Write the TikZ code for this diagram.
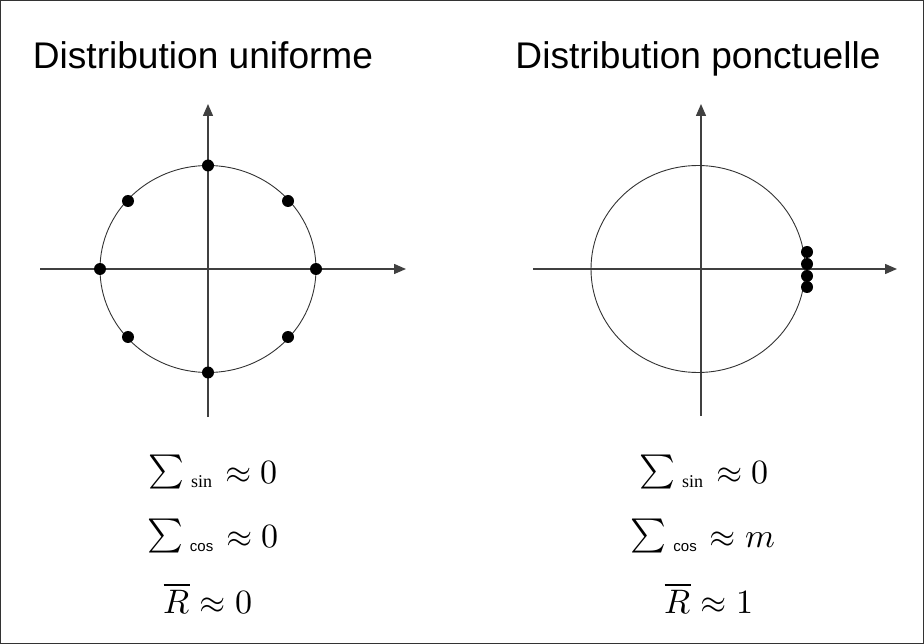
\documentclass[tikz,border=0pt]{standalone}
\usepackage{unicode-math}
\setmainfont{Liberation Sans}
\newfontfamily\subserif{Liberation Serif}
\usetikzlibrary{arrows.meta, positioning, calc}
\newcommand{\bigsum}{\raisebox{3pt}{$\sum$}}
\newcommand{\sumsin}{\bigsum\hspace{7pt}\raisebox{-4pt}{\subserif\fontsize{18}{20}\selectfont sin}\hspace{13pt}}
\newcommand{\sumcos}{\bigsum\hspace{7pt}\raisebox{-4pt}{\fontsize{15}{18}\selectfont cos}\hspace{13pt}}

\begin{document}
\begin{tikzpicture}[x=1pt, y=-1pt,
    ax/.style={-{Triangle[length=12pt,width=10pt]}, line width=1.4pt, black!75},
    c/.style={black!80, line width=0.9pt},
    d/.style={circle, fill=black, inner sep=0pt, minimum size=12pt},
    t/.style={font=\fontsize{37.1}{40}\selectfont, anchor=base},
    f/.style={font=\fontsize{34}{38}\selectfont, anchor=base},
]
\useasboundingbox (0,0) rectangle (924,644);
\draw[black!80, line width=0.9pt] (0.5,0.5) rectangle (923.5,643.5);

% left: uniform
\node[t] (tu) at (203,69) {Distribution uniforme};
\coordinate (uo) at (208,269);
\coordinate (ul) at (40,269);
\coordinate (ur) at (406,269);
\coordinate (ub) at (208,417);
\coordinate (ut) at (208,104);
\draw[ax] (ul) -- (ur);
\draw[ax] (ub) -- (ut);
\draw[c] (uo) ellipse [x radius=108, y radius=103.5];
\foreach \dx/\dy in {108/0, 80/68, 0/103.5, -80/68, -108/0, -80/-68, 0/-103.5, 80/-68}
  \node[d] at ($(uo)+(\dx,\dy)$) {};
\node[f] (us) at (213,483) {\sumsin$\approx 0$};
\node[f] (uc) at (213,547) {\sumcos$\approx 0$};
\node[f] (ur2) at (208,613) {$\overline{R}\approx 0$};

% right: ponctuelle
\node[t] (tp) at (698,69) {Distribution ponctuelle};
\coordinate (po) at (698,269);
\coordinate (pl) at (533,269);
\coordinate (pr) at (897,269);
\coordinate (pb) at (701,416);
\coordinate (pt) at (701,104);
\draw[ax] (pl) -- (pr);
\draw[ax] (pb) -- (pt);
\draw[c] (po) ellipse [x radius=107, y radius=103.5];
\foreach \y in {252,264,276,287}
  \node[d] at (807,\y) {};
\node[f] (ps) at (704,483) {\sumsin$\approx 0$};
\node[f] (pc) at (703,547) {\sumcos$\approx m$};
\node[f] (pr2) at (709,613) {$\overline{R}\approx 1$};
\end{tikzpicture}
\end{document}
